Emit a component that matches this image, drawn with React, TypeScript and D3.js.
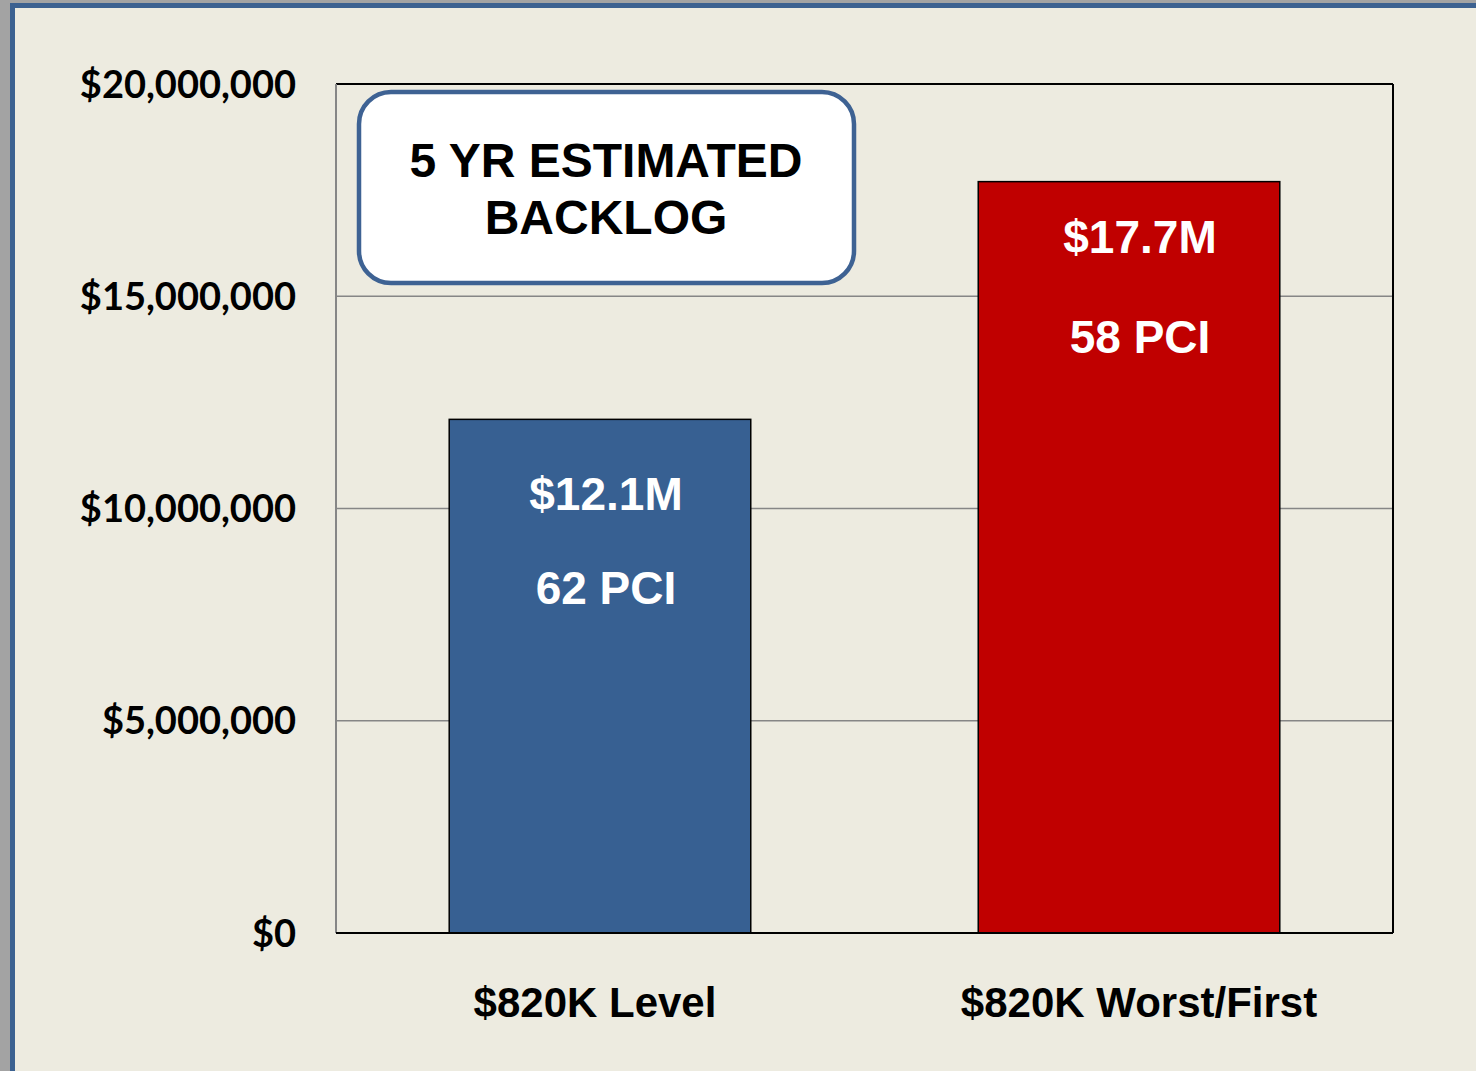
import React from "react";
import * as d3 from "d3";

const categories = ["$820K Level", "$820K Worst/First"];
const backlog = [12100000, 17700000];
const barLabels = ["$12.1M", "$17.7M"];
const pciLabels = ["62 PCI", "58 PCI"];
const barColors = ["#376092", "#C00000"];
const yTicks = [0, 5000000, 10000000, 15000000, 20000000];
const titleLines = ["5 YR ESTIMATED", "BACKLOG"];

const W = 1476;
const H = 1071;
const plot = { left: 336, right: 1393, top: 84, bottom: 933 };

// hand-placed label boxes in the original slide, offsets from the bar top/centre
const labelOffsets = [
  { dx: 6, dy1: 91, dy2: 185 },
  { dx: 11, dy1: 71, dy2: 171 },
];

const App = () => {
  const x = d3
    .scaleBand<string>()
    .domain(categories)
    .range([plot.left, plot.right])
    .paddingInner(0.43)
    .paddingOuter(0.214);

  const y = d3.scaleLinear().domain([0, 20000000]).range([plot.bottom, plot.top]);

  const fmt = (v: number) => "$" + d3.format(",")(v);
  const arial = "'Liberation Sans', Arial, sans-serif";

  return (
    <div style={{ position: "absolute", left: 0, top: 0 }}>
      <svg width={W} height={H} style={{ display: "block" }}>
        {/* slide frame */}
        <rect x={0} y={0} width={W} height={H} fill="#A3A3A3" />
        <rect x={10} y={3} width={W - 10} height={H - 3} fill="#3C6190" />
        <rect x={15} y={8} width={W - 15} height={H - 8} fill="#EDEBE0" />

        {/* gridlines */}
        {yTicks.slice(1, -1).map((t) => (
          <line
            key={t}
            x1={plot.left}
            x2={plot.right}
            y1={y(t)}
            y2={y(t)}
            stroke="#868686"
            strokeWidth={1.5}
          />
        ))}

        {/* plot border */}
        <line x1={plot.left} x2={plot.right} y1={plot.top} y2={plot.top} stroke="#000" strokeWidth={2} />
        <line x1={plot.right} x2={plot.right} y1={plot.top} y2={plot.bottom} stroke="#000" strokeWidth={2} />
        <line x1={plot.left} x2={plot.left} y1={plot.top} y2={plot.bottom} stroke="#868686" strokeWidth={2} />

        {/* bars */}
        {categories.map((c, i) => (
          <rect
            key={c}
            x={x(c)}
            y={y(backlog[i])}
            width={x.bandwidth()}
            height={plot.bottom - y(backlog[i])}
            fill={barColors[i]}
            stroke="#000"
            strokeWidth={1.5}
          />
        ))}

        <line x1={plot.left} x2={plot.right} y1={plot.bottom} y2={plot.bottom} stroke="#000" strokeWidth={2} />

        {/* bar labels */}
        {categories.map((c, i) => {
          const o = labelOffsets[i];
          const cx = (x(c) as number) + x.bandwidth() / 2 + o.dx;
          const top = y(backlog[i]);
          return (
            <g key={c} fontFamily={arial} fontWeight="bold" fontSize={46} fill="#fff" textAnchor="middle">
              <text x={cx} y={top + o.dy1}>{barLabels[i]}</text>
              <text x={cx} y={top + o.dy2}>{pciLabels[i]}</text>
            </g>
          );
        })}

        {/* y axis labels */}
        {yTicks.map((t) => (
          <text
            key={t}
            x={296}
            y={y(t)}
            dy="0.36em"
            textAnchor="end"
            fontFamily="Lato, 'Open Sans', sans-serif"
            fontWeight="bold"
            fontSize={38}
            fill="#000"
          >
            {fmt(t)}
          </text>
        ))}

        {/* category labels */}
        {categories.map((c, i) => (
          <text
            key={c}
            x={(x(c) as number) + x.bandwidth() / 2 + (i === 0 ? -5 : 10)}
            y={1017}
            textAnchor="middle"
            fontFamily={arial}
            fontWeight="bold"
            fontSize={42}
            fill="#000"
          >
            {c}
          </text>
        ))}

        {/* title box */}
        <rect
          x={359}
          y={92}
          width={495}
          height={191}
          rx={32}
          fill="#fff"
          stroke="#3E6293"
          strokeWidth={4.5}
        />
        {titleLines.map((l, i) => (
          <text
            key={l}
            x={606}
            y={177 + i * 57}
            textAnchor="middle"
            fontFamily={arial}
            fontWeight="bold"
            fontSize={48}
            fill="#000"
          >
            {l}
          </text>
        ))}
      </svg>
    </div>
  );
};

export default App;
